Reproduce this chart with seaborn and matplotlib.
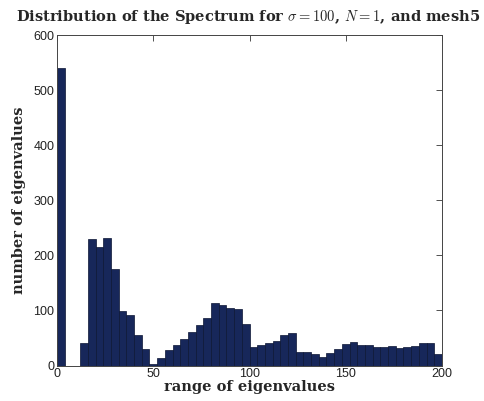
import numpy as np
import pandas as pd
import matplotlib
matplotlib.use("Agg")
import matplotlib.pyplot as plt
import seaborn as sns

# Histogram bin edges (width 4) and counts
bin_edges = list(range(0, 204, 4))
counts = [541, 0, 0, 41, 229, 216, 232, 175, 99, 92,
          55, 30, 3, 14, 29, 38, 48, 61, 73, 87,
          113, 110, 104, 102, 75, 34, 37, 41, 45, 56,
          59, 25, 24, 21, 15, 22, 30, 39, 42, 37,
          37, 34, 34, 36, 32, 34, 35, 40, 41, 21]
x_ticks = [0, 50, 100, 150, 200]
y_ticks = [0, 100, 200, 300, 400, 500, 600]

title = r"Distribution of the Spectrum for $\sigma = 100$, $N = 1$, and mesh5"
xlabel = "range of eigenvalues"
ylabel = "number of eigenvalues"

centers = [(bin_edges[i] + bin_edges[i + 1]) / 2 for i in range(len(counts))]
df = pd.DataFrame({"center": centers, "count": counts})

sns.set_style("white")
plt.rcParams["mathtext.fontset"] = "cm"

fig = plt.figure(figsize=(4.84, 4.01), dpi=100)
ax = fig.add_axes([0.118, 0.0885, 0.795, 0.824])

sns.histplot(data=df, x="center", weights="count", bins=bin_edges, ax=ax,
             color="#17275a", edgecolor="#0b1533", linewidth=0.5, alpha=1.0)

ax.set_xlim(0, 200)
ax.set_ylim(0, 600)
ax.set_xticks(x_ticks)
ax.set_yticks(y_ticks)
ax.tick_params(direction="in", length=4, width=0.6, top=True, right=True,
               labelsize=9, colors="#333333", labelcolor="#222222", pad=2)
for lab in ax.get_xticklabels() + ax.get_yticklabels():
    lab.set_family("Liberation Sans")
for s in ax.spines.values():
    s.set_linewidth(0.7)
    s.set_color("#444444")

serif = "DejaVu Serif"
ax.set_title(title, fontsize=10.5, fontweight="bold", family=serif, pad=10, x=0.497)
ax.set_xlabel(xlabel, fontsize=10.5, fontweight="bold", family=serif, labelpad=0)
ax.set_ylabel(ylabel, fontsize=10.5, fontweight="bold", family=serif, labelpad=5)

fig.savefig("out.png", dpi=100)
